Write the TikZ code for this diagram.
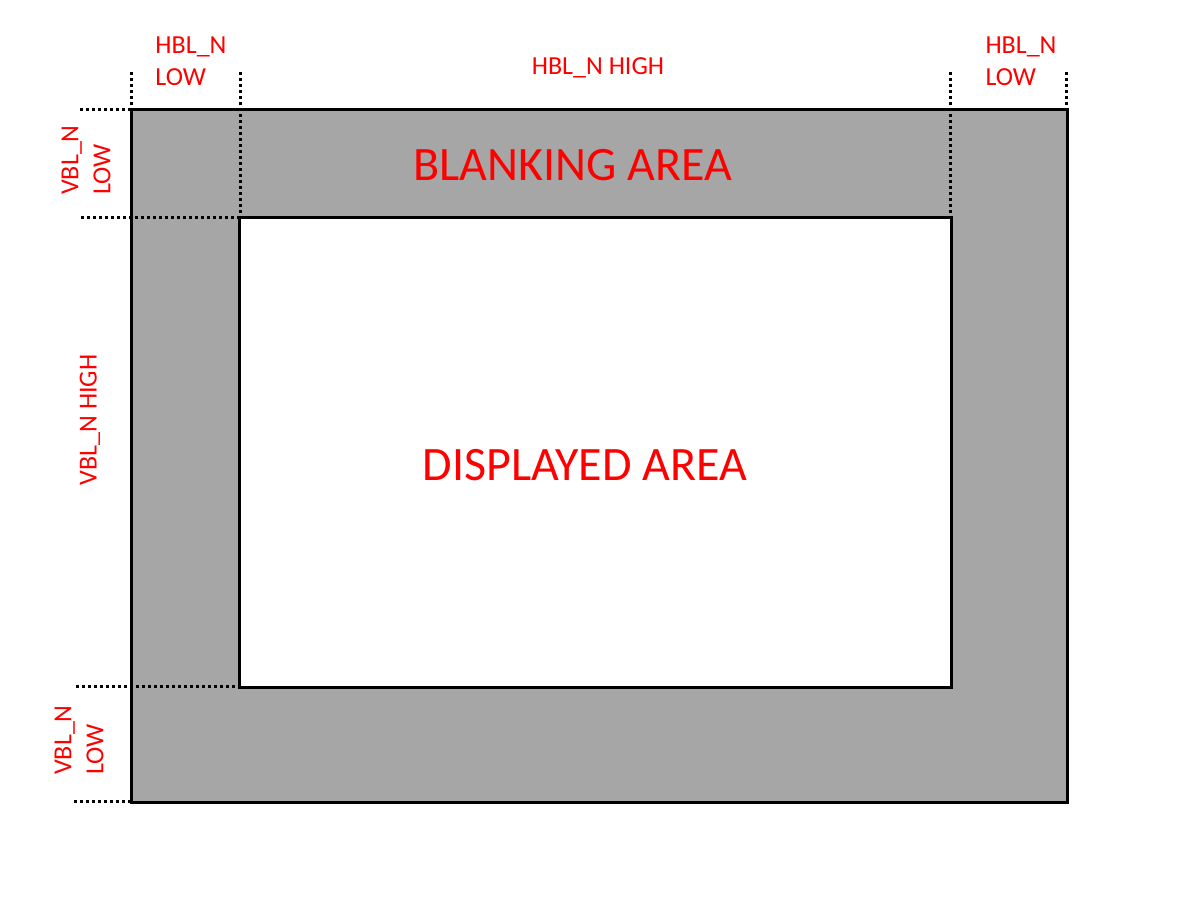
\documentclass[tikz,border=0pt]{standalone}
\usepackage{fontspec}
\setmainfont{Carlito}
\begin{document}
\begin{tikzpicture}[x=1pt,y=-1pt,
  lbl/.style={text=red,font=\fontsize{26}{32}\selectfont,align=left,inner sep=0pt},
  big/.style={text=red,font=\fontsize{48}{56}\selectfont,inner sep=0pt},
  dotline/.style={line width=3pt,dash pattern=on 3pt off 3pt,black},
  frame/.style={draw=black,line width=3pt}]
\useasboundingbox (0,0) rectangle (1200,900);
\fill[fill={rgb,255:red,166;green,166;blue,166}] (131,109) rectangle (1067,802);
\draw[frame] (131,109) rectangle (1067,802);
\draw[frame,fill=white] (239,217) rectangle (951,687);
% dotted guides
\draw[dotline] (131,72) -- (131,109);
\draw[dotline] (240,72) -- (240,217);
\draw[dotline] (950,72) -- (950,217);
\draw[dotline] (1066,72) -- (1066,109);
\draw[dotline] (80,109) -- (131,109);
\draw[dotline] (81,217) -- (239,217);
\draw[dotline] (76,686) -- (239,686);
\draw[dotline] (74,801) -- (131,801);
% labels
\node[lbl] (hl) at (191,61) {HBL\_N\\LOW};
\node[lbl] (hh) at (598,68) {HBL\_N HIGH};
\node[lbl] (hr) at (1021,61) {HBL\_N\\LOW};
\node[lbl,rotate=90] (vl1) at (86,160) {VBL\_N\\LOW};
\node[lbl,rotate=90] (vh) at (90,420) {VBL\_N HIGH};
\node[lbl,rotate=90] (vl2) at (79,740) {VBL\_N\\LOW};
\node[big] (ba) at (573,165) {BLANKING AREA};
\node[big] (da) at (585,465) {DISPLAYED AREA};
\end{tikzpicture}
\end{document}
